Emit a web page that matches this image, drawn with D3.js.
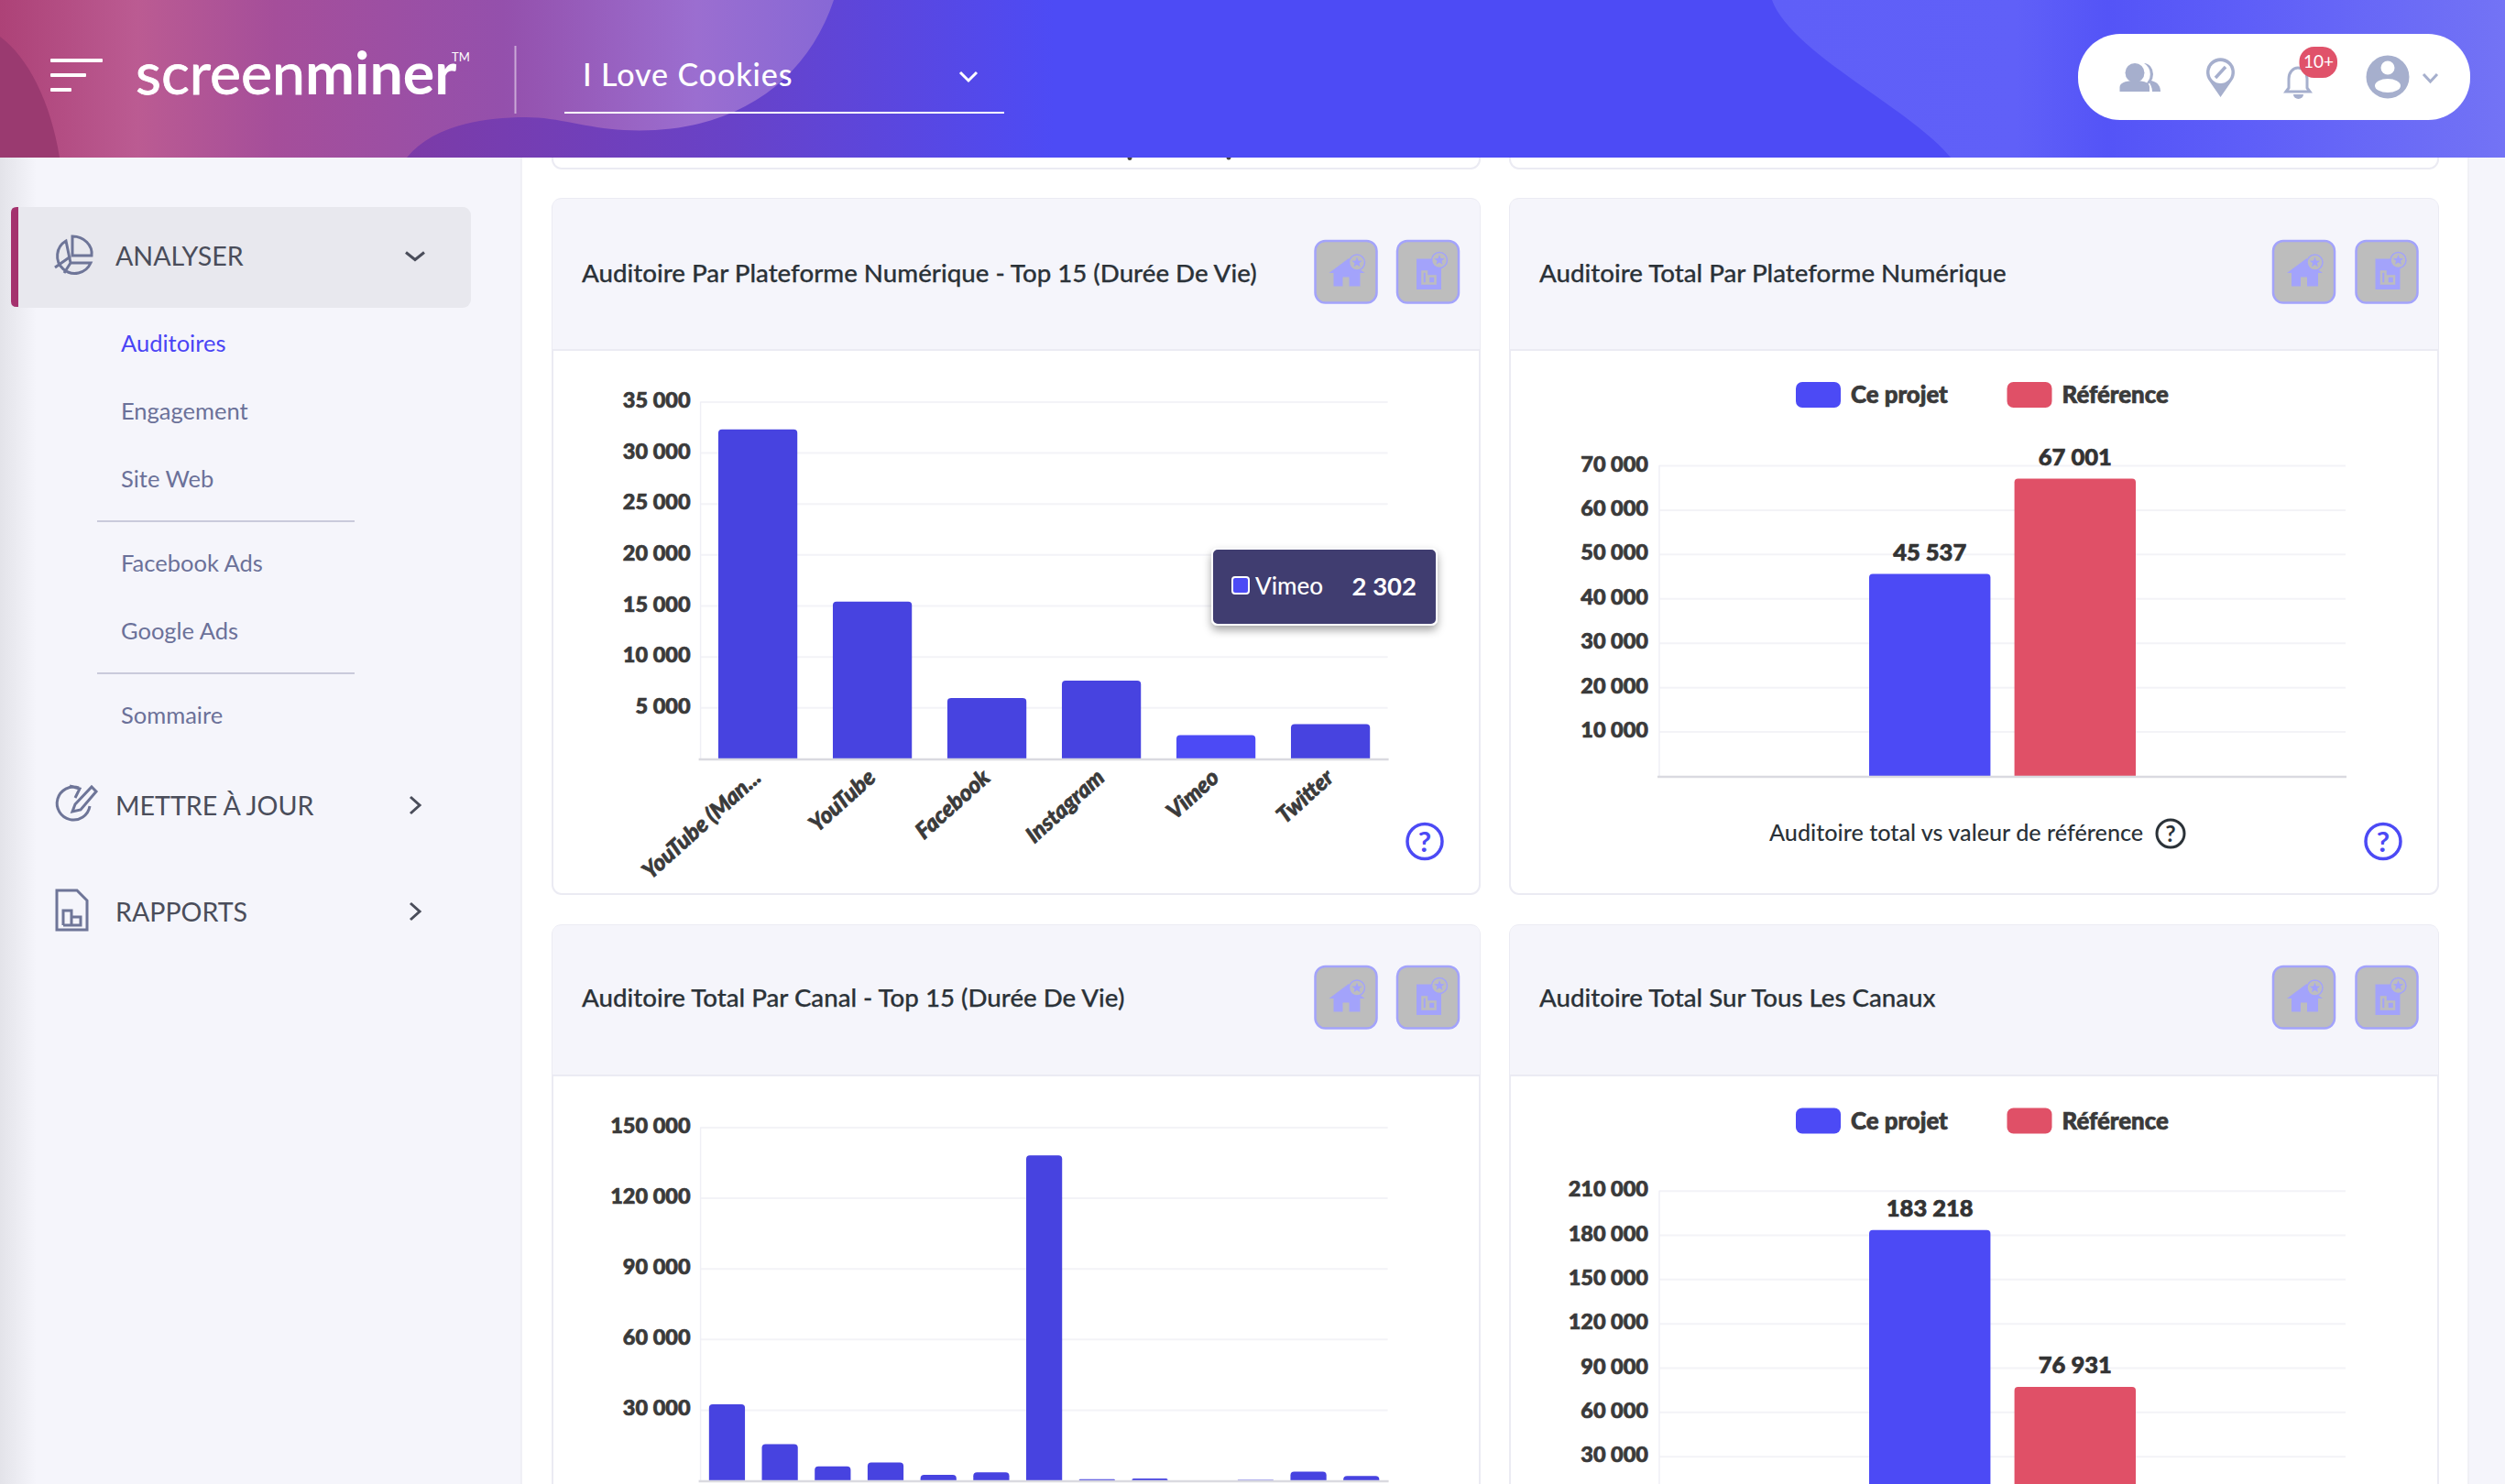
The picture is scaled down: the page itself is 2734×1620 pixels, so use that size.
<!DOCTYPE html>
<html lang="fr"><head><meta charset="utf-8"><title>Screenminer</title>
<script src="https://cdn.jsdelivr.net/npm/d3@7/dist/d3.min.js"></script>
<style>html,body{margin:0;padding:0;background:#fff;overflow:hidden}svg{display:block}text{font-family:Lato,sans-serif}</style>
</head><body><svg id="c" width="2734" height="1620" viewBox="0 0 2734 1620"></svg>
<script>
// ---- data ----
const platforms = ["YouTube (Man...", "YouTube", "Facebook", "Instagram", "Vimeo", "Twitter"];
const platformValues = [32270, 15390, 5940, 7630, 2302, 3380];
const platformTicks = [5000, 10000, 15000, 20000, 25000, 30000, 35000];
const channels = ["c01","c02","c03","c04","c05","c06","c07","c08","c09","c10","c11","c12","c13"];
const channelValues = [32270, 15390, 5940, 7630, 2302, 3380, 138000, 460, 770, 0, 150, 3690, 1850];
const channelTicks = [30000, 60000, 90000, 120000, 150000];
const series = ["Ce projet", "Référence"];
const seriesColors = ["#4c4af5", "#e05067"];
const platformTotals = [45537, 67001];
const platformTotalTicks = [10000, 20000, 30000, 40000, 50000, 60000, 70000];
const channelTotals = [183218, 76931];
const channelTotalTicks = [30000, 60000, 90000, 120000, 150000, 180000, 210000];
const titles = ["Auditoire Par Plateforme Numérique - Top 15 (Durée De Vie)", "Auditoire Total Par Plateforme Numérique", "Auditoire Total Par Canal - Top 15 (Durée De Vie)", "Auditoire Total Sur Tous Les Canaux"];
const subMenu = ["Auditoires", "Engagement", "Site Web", "Facebook Ads", "Google Ads", "Sommaire"];
const mainMenu = ["ANALYSER", "METTRE À JOUR", "RAPPORTS"];

const fr = d3.formatLocale({decimal:",", thousands:" ", grouping:[3], currency:["",""]}).format(",d");
const svg = d3.select("#c");
const defs = svg.append("defs");
function lin(id, x1, x2, stops){
  const g = defs.append("linearGradient").attr("id",id).attr("gradientUnits","userSpaceOnUse").attr("x1",x1).attr("x2",x2).attr("y1",0).attr("y2",0);
  stops.forEach(s=>g.append("stop").attr("offset",(s[0]-x1)/(x2-x1)).attr("stop-color",s[1]));
}
lin("hBase",0,2734,[[0,"#8e3a80"],[444,"#7c3ba7"],[800,"#6842c8"],[1150,"#4d4bf5"],[2734,"#4d4bf5"]]);
lin("hLight",0,910,[[0,"#ad4277"],[150,"#bb5b92"],[300,"#a54e9a"],[550,"#9450ac"],[760,"#9b6ed0"],[910,"#8768d6"]]);
lin("hRight",1934,2734,[[1934,"#5f5ff8"],[2200,"#6060f8"],[2300,"#5454f7"],[2450,"#5e5ef8"],[2734,"#7373f5"]]);
lin("sideEdge",0,40,[[0,"#e3e3e9"],[40,"#f5f5fb"]]);
const sh = defs.append("filter").attr("id","ttShadow").attr("x","-20%").attr("y","-20%").attr("width","140%").attr("height","150%");
sh.append("feDropShadow").attr("dx",0).attr("dy",5).attr("stdDeviation",5).attr("flood-color","#000").attr("flood-opacity",.35);

// ---- page background ----
svg.append("rect").attr("width",2734).attr("height",1620).attr("fill","#fff");
svg.append("rect").attr("width",569).attr("height",1620).attr("fill","#f5f5fb");
svg.append("rect").attr("width",40).attr("height",1620).attr("fill","url(#sideEdge)");
svg.append("line").attr("x1",569).attr("x2",569).attr("y1",172).attr("y2",1620).attr("stroke","#ececf3").attr("stroke-width",1.5);
svg.append("rect").attr("x",2694).attr("width",40).attr("height",1620).attr("fill","#f5f5fb");
svg.append("line").attr("x1",2694).attr("x2",2694).attr("y1",172).attr("y2",1620).attr("stroke","#ececf3").attr("stroke-width",1.5);

// ---- partially hidden cards ----
[[603,1615],[1648,2661]].forEach(c=>svg.append("rect").attr("x",c[0]).attr("y",100).attr("width",c[1]-c[0]).attr("height",84).attr("rx",10).attr("fill","#fff").attr("stroke","#ebebf3").attr("stroke-width",2));
[[1233,172],[1341,171.5]].forEach(p=>svg.append("ellipse").attr("cx",p[0]).attr("cy",p[1]).attr("rx",2.5).attr("ry",3).attr("fill","#444"));

// ---- cards ----
function card(x0,x1,y0,yh,y1,title,titleY){
  const g = svg.append("g");
  g.append("rect").attr("x",x0).attr("y",y0).attr("width",x1-x0).attr("height",y1-y0).attr("rx",10).attr("fill","#fff").attr("stroke","#ebebf3").attr("stroke-width",2);
  g.append("path").attr("d",`M${x0},${yh}V${y0+10}Q${x0},${y0} ${x0+10},${y0}H${x1-10}Q${x1},${y0} ${x1},${y0+10}V${yh}Z`).attr("fill","#f5f5fb");
  g.append("line").attr("x1",x0).attr("x2",x1).attr("y1",yh).attr("y2",yh).attr("stroke","#ebebf3").attr("stroke-width",2);
  g.append("text").attr("x",x0+32).attr("y",titleY).attr("dy","0.35em").attr("font-size",27.7).attr("font-weight",500).attr("fill","#2b3238").attr("stroke","#2b3238").attr("stroke-width",.25).text(title);
}
card(603,1615,217,382,976,titles[0],298.5);
card(1648,2661,217,382,976,titles[1],298.5);
card(603,1615,1010,1174,1760,titles[2],1089.5);
card(1648,2661,1010,1174,1760,titles[3],1089.5);

// ---- card buttons ----
function buttons(xs,y){
  const ic="#a3a3fb", bg="#bdbdbd";
  const star=(g,cx,cy)=>{
    g.append("circle").attr("cx",cx).attr("cy",cy).attr("r",8.5).attr("fill",bg).attr("stroke",ic).attr("stroke-width",1.5);
    const pts=d3.range(10).map(i=>{const r=i%2?2.6:6,a=-Math.PI/2+i*Math.PI/5;return [cx+r*Math.cos(a),cy+r*Math.sin(a)].join(",")}).join(" ");
    g.append("polygon").attr("points",pts).attr("fill",ic);
  };
  const a=svg.append("g").attr("transform",`translate(${xs[0]},${y})`);
  a.append("rect").attr("x",1).attr("y",1).attr("width",67).attr("height",67.5).attr("rx",11).attr("fill",bg).attr("stroke",ic).attr("stroke-width",2.5);
  a.append("path").attr("d","M37.5,20 L16,36 L21,36 V50.5 H31 V40.5 H38 V50.5 H50 V36 H55 L47,30 Z").attr("fill",ic);
  star(a,46.5,24.5);
  const b=svg.append("g").attr("transform",`translate(${xs[1]},${y})`);
  b.append("rect").attr("x",1).attr("y",1).attr("width",67).attr("height",67.5).attr("rx",11).attr("fill",bg).attr("stroke",ic).attr("stroke-width",2.5);
  b.append("rect").attr("x",22).attr("y",20.5).attr("width",27).attr("height",33.5).attr("fill",ic);
  b.append("path").attr("d","M28.5,34.5 h4.5 v13 h-4.5 Z M35,39.5 h7.5 v8 h-7.5 Z").attr("fill","none").attr("stroke",bg).attr("stroke-width",2.5);
  star(b,47,22);
}
buttons([1434.5,1524],262); buttons([2480,2570.5],262);
buttons([1434.5,1524],1054); buttons([2480,2570.5],1054);

// ---- charts ----
function topBar(x,y,w,h,r){
  if(h<=0) return "";
  r=Math.min(r,h,w/2);
  return `M${x},${y+h}V${y+r}Q${x},${y} ${x+r},${y}H${x+w-r}Q${x+w},${y} ${x+w},${y+r}V${y+h}Z`;
}
function heavy(sel,col){ return sel.attr("font-weight",900).attr("fill",col).attr("stroke",col).attr("stroke-width",.7); }
function frame(g,x0,x1,yTop,yBase,dMax,ticks,pad){
  const y=d3.scaleLinear().domain([0,dMax]).range([yBase,yTop]);
  const ax=d3.axisLeft(y).tickValues(ticks).tickSize(-(x1-x0)).tickPadding(pad).tickFormat(fr);
  const a=g.append("g").attr("transform",`translate(${x0},0)`).call(ax);
  a.select(".domain").remove();
  a.selectAll("line").attr("stroke","#f3f3f7").attr("stroke-width",2);
  heavy(a.selectAll("text"),"#3a3a3a").attr("font-size",23.5).attr("y",-1.5).style("font-family","Lato,sans-serif");
  g.append("line").attr("x1",x0).attr("x2",x0).attr("y1",yTop).attr("y2",yBase).attr("stroke","#efeff6").attr("stroke-width",1.5);
  return y;
}
function baseLine(g,x0,x1,yBase){
  g.append("line").attr("x1",x0-2).attr("x2",x1+1).attr("y1",yBase+1).attr("y2",yBase+1).attr("stroke","#dadae0").attr("stroke-width",2.5);
}
function columns(g,cats,vals,x0,x1,yTop,yBase,dMax,ticks,padIn,hot){
  const y=frame(g,x0,x1,yTop,yBase,dMax,ticks,11);
  const x=d3.scaleBand().domain(cats).range([x0,x1]).paddingInner(padIn).paddingOuter(padIn/2);
  g.append("g").selectAll("path").data(cats).join("path")
    .attr("d",(c,i)=>topBar(x(c),y(vals[i]),x.bandwidth(),yBase-y(vals[i]),4))
    .attr("fill",c=>c===hot?"#4c4af5":"#4743e0");
  baseLine(g,x0,x1,yBase);
  return x;
}
function pair(g,vals,x0,x1,yTop,yBase,dMax,ticks){
  const y=frame(g,x0,x1,yTop,yBase,dMax,ticks,12);
  const cx=(x0+x1)/2;
  const x=d3.scaleBand().domain(series).range([cx-145.5,cx+145.5]).paddingInner(.165).paddingOuter(0);
  g.append("g").selectAll("path").data(series).join("path")
    .attr("d",(s,i)=>topBar(x(s),y(vals[i]),x.bandwidth(),yBase-y(vals[i]),4))
    .attr("fill",(s,i)=>seriesColors[i]);
  heavy(g.append("g").selectAll("text").data(series).join("text"),"#333")
    .attr("x",s=>x(s)+x.bandwidth()/2).attr("y",(s,i)=>y(vals[i])-23.5).attr("dy","0.35em")
    .attr("text-anchor","middle").attr("font-size",25.5)
    .text((s,i)=>fr(vals[i]));
  baseLine(g,x0,x1,yBase);
}
function legend(g,yc){
  const xs=[1960,2190.5];
  series.forEach((s,i)=>{
    g.append("rect").attr("x",xs[i]).attr("y",yc-14).attr("width",49).attr("height",28).attr("rx",7).attr("fill",seriesColors[i]);
    heavy(g.append("text"),"#3a3a3a").attr("x",xs[i]+60).attr("y",yc).attr("dy","0.35em").attr("font-size",25.8).text(s);
  });
}
function qmark(g,cx,cy,r,col,sw){
  g.append("circle").attr("cx",cx).attr("cy",cy).attr("r",r).attr("fill","none").attr("stroke",col).attr("stroke-width",sw);
  g.append("text").attr("x",cx).attr("y",cy).attr("dy","0.36em").attr("text-anchor","middle").attr("font-size",r*1.65).attr("font-weight",700).attr("fill",col).text("?");
}

// chart 1
const g1=svg.append("g");
const x1s=columns(g1,platforms,platformValues,764.6,1514.6,438.4,828,35000,platformTicks,.31,"Vimeo");
heavy(g1.append("g").selectAll("text").data(platforms).join("text"),"#3a3a3a")
  .attr("transform",c=>`translate(${x1s(c)+x1s.bandwidth()/2+5},${851}) rotate(-42)`)
  .attr("text-anchor","end").attr("font-size",24.5).attr("font-style","italic").text(c=>c);
qmark(g1,1555,918.5,19,"#4c4af5",3.5);
// tooltip
const tt=svg.append("g");
tt.append("rect").attr("x",1323).attr("y",599).attr("width",245).attr("height",83).attr("rx",6).attr("fill","#403d70").attr("stroke","#fff").attr("stroke-width",2).attr("filter","url(#ttShadow)");
tt.append("rect").attr("x",1345).attr("y",630).attr("width",18).attr("height",18).attr("rx",3).attr("fill","#4c4af5").attr("stroke","#fff").attr("stroke-width",2);
tt.append("text").attr("x",1370).attr("y",640).attr("dy","0.35em").attr("font-size",26).attr("font-weight",500).attr("fill","#fff").text(platforms[4]);
tt.append("text").attr("x",1546).attr("y",640).attr("dy","0.35em").attr("text-anchor","end").attr("font-size",27.5).attr("font-weight",700).attr("fill","#fff").text(fr(platformValues[4]));

// chart 2
const g2=svg.append("g");
legend(g2,431);
pair(g2,platformTotals,1811,2560,508,847,70000,platformTotalTicks);
g2.append("text").attr("x",1931).attr("y",909.5).attr("dy","0.35em").attr("font-size",25.2).attr("font-weight",500).attr("fill","#2b3238").text("Auditoire total vs valeur de référence");
qmark(g2,2369,910,15,"#2b3238",3);
qmark(g2,2601,918.5,19,"#4c4af5",3.5);

// chart 3
columns(svg.append("g"),channels,channelValues,764.6,1514.6,1230.5,1616,150000,channelTicks,.32,null);

// chart 4
const g4=svg.append("g");
legend(g4,1223.5);
pair(g4,channelTotals,1811,2560,1299.7,1638,210000,channelTotalTicks);

// ---- header ----
const h=svg.append("g");
h.append("rect").attr("width",2734).attr("height",172).attr("fill","url(#hBase)");
h.append("path").attr("d","M1934,0 C1955,58 2085,118 2129,172 L2734,172 L2734,0 Z").attr("fill","url(#hRight)");
h.append("path").attr("d","M0,0 L910,0 C880,90 800,148 681,142 C640,140 610,128 574,128 C520,128 470,140 444,172 L0,172 Z").attr("fill","url(#hLight)");
h.append("path").attr("d","M0,40 C30,62 55,110 65,172 L0,172 Z").attr("fill","#9a3a70");
[[55,64,57],[55,80,39],[55,96,23]].forEach(b=>h.append("rect").attr("x",b[0]).attr("y",b[1]).attr("width",b[2]).attr("height",4).attr("rx",1).attr("fill","#fff"));
const logo=h.append("text").attr("x",148).attr("y",103).attr("font-size",64.5).attr("fill","#fff");
logo.append("tspan").attr("font-weight",400).attr("stroke","#fff").attr("stroke-width",.8).text("screen");
logo.append("tspan").attr("font-weight",700).text("miner");
h.append("text").attr("x",493).attr("y",67).attr("font-size",13).attr("fill","#fff").text("TM");
h.append("line").attr("x1",562.5).attr("x2",562.5).attr("y1",50).attr("y2",124).attr("stroke","#fff").attr("stroke-opacity",.5).attr("stroke-width",2);
h.append("text").attr("x",636).attr("y",82).attr("dy","0.35em").attr("font-size",34).attr("font-weight",500).attr("letter-spacing",.9).attr("fill","#fff").text("I Love Cookies");
h.append("path").attr("d","M1048,79 L1057,88 L1066,79").attr("fill","none").attr("stroke","#fff").attr("stroke-width",3);
h.append("line").attr("x1",616).attr("x2",1096).attr("y1",123).attr("y2",123).attr("stroke","#fff").attr("stroke-width",2);
// pill
h.append("rect").attr("x",2268).attr("y",37).attr("width",428).attr("height",94).attr("rx",46).attr("fill","#fff");
const ic="#a6afcd";
h.append("path").attr("d","M2340,69 a10,12 0 1 1 0,24 a14,14 0 0 0 0,-24 Z M2348,88 C2356,90 2358,95 2358,100 H2349 C2349,96 2347,91 2344,88 Z").attr("fill",ic);
h.append("circle").attr("cx",2330).attr("cy",79.5).attr("r",10.5).attr("fill",ic);
h.append("path").attr("d","M2313.5,100 V95 C2313.5,89 2324,88 2330,88 C2337,88 2346,89 2346,95 V100 Z").attr("fill",ic);
h.append("path").attr("d","M2423.5,106 L2411,88 A15.5,15.5 0 1 1 2436,88 Z").attr("fill",ic);
h.append("circle").attr("cx",2423.5).attr("cy",79).attr("r",12).attr("fill","#fff");
h.append("path").attr("d","M2418,85 L2429,73").attr("stroke",ic).attr("stroke-width",3.5);
h.append("path").attr("d","M2495,100 L2498,96 V86 A10,12 0 0 1 2518,86 V96 L2521,100 Z").attr("fill","#fff").attr("stroke",ic).attr("stroke-width",3);
h.append("path").attr("d","M2503,103 H2514 A5.5,5 0 0 1 2503,103 Z").attr("fill",ic);
h.append("rect").attr("x",2509.5).attr("y",51).attr("width",41.5).attr("height",34).attr("rx",16).attr("fill","#e0526a");
h.append("text").attr("x",2530.5).attr("y",67).attr("dy","0.35em").attr("text-anchor","middle").attr("font-size",19).attr("fill","#fff").text("10+");
h.append("circle").attr("cx",2606).attr("cy",84).attr("r",23.5).attr("fill",ic);
h.append("circle").attr("cx",2606).attr("cy",74).attr("r",7.5).attr("fill","#fff");
h.append("ellipse").attr("cx",2606).attr("cy",93.5).attr("rx",14).attr("ry",7.5).attr("fill","#fff");
h.append("path").attr("d","M2645,81 L2652.5,89 L2660,81").attr("fill","none").attr("stroke",ic).attr("stroke-width",3);

// ---- sidebar ----
const s=svg.append("g");
s.append("rect").attr("x",12).attr("y",226).attr("width",502).attr("height",110).attr("rx",9).attr("fill","#e8e8ee");
s.append("path").attr("d","M20,226 H20 V335 H18 Q12,335 12,329 V232 Q12,226 18,226 Z").attr("fill","#a4326e");
const main=[[126,279.5],[126,880],[126,996]];
mainMenu.forEach((m,i)=>s.append("text").attr("x",main[i][0]).attr("y",main[i][1]).attr("dy","0.35em").attr("font-size",28.6).attr("fill","#4a4d5a").text(m));
const subY=[375,449,523,615,689,781];
subMenu.forEach((m,i)=>s.append("text").attr("x",132).attr("y",subY[i]).attr("dy","0.35em").attr("font-size",25.5).attr("fill",i===0?"#4a44f5":"#6b7199").text(m));
[569,735].forEach(y=>s.append("line").attr("x1",106).attr("x2",387).attr("y1",y).attr("y2",y).attr("stroke","#c9cadb").attr("stroke-width",2));
const ch="#4a4d5a";
s.append("path").attr("d","M443,275.5 L453,283.5 L463,275.5").attr("fill","none").attr("stroke",ch).attr("stroke-width",3);
[879,995].forEach(y=>s.append("path").attr("d",`M448,${y-9} L458,${y} L448,${y+9}`).attr("fill","none").attr("stroke",ch).attr("stroke-width",3));
const st="#6e7598";
s.append("path").attr("d","M72,263 A19,19 0 1 0 99,287 H77 Z M79,258 A21,19 0 0 1 100,279 H79 Z M60,292 L77,280 M70,298 L77,287").attr("fill","none").attr("stroke",st).attr("stroke-width",3);
s.append("path").attr("d","M86,860 A18,18 0 1 0 98,880 M76,858 L87,861 L82,871 M82,878 L100,859 L105,864 L88,884 L79,886 Z").attr("fill","none").attr("stroke",st).attr("stroke-width",3);
s.append("path").attr("d","M62,972 H84 L95,983 V1015 H62 Z M69,1010 V994 H78 V1010 M78,1001 H88 V1010 H69").attr("fill","none").attr("stroke",st).attr("stroke-width",3);
</script></body></html>
